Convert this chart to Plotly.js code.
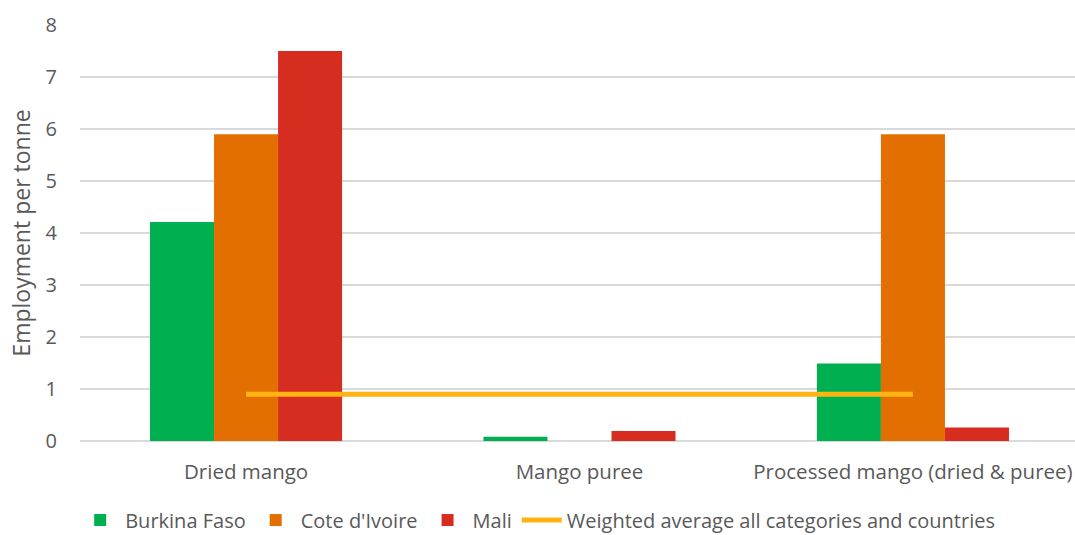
<!DOCTYPE html>
<html><head><meta charset="utf-8">
<script src="https://cdn.plot.ly/plotly-3.0.1.min.js"></script>
<style>html,body{margin:0;padding:0;background:#fff;width:1075px;height:535px;overflow:hidden}#chart{width:1075px;height:550px}</style>
</head><body><div id="chart"></div>
<script>
const categories = ["Dried mango", "Mango puree", "Processed mango (dried & puree)"];
const burkinaFaso = [4.21, 0.08, 1.49];
const coteDIvoire = [5.9, null, 5.9];
const mali = [7.5, 0.19, 0.26];
const weightedAverage = [0.9, 0.9, 0.9];
const yTicks = [0, 1, 2, 3, 4, 5, 6, 7, 8];

const font = "Open Sans, Liberation Sans, sans-serif";
const grey = "#595959";
const traces = [
  {type: "bar", name: "Burkina Faso", x: categories, y: burkinaFaso, marker: {color: "#00B050"}},
  {type: "bar", name: "Cote d'Ivoire", x: categories, y: coteDIvoire, marker: {color: "#E36F00"}},
  {type: "bar", name: "Mali", x: categories, y: mali, marker: {color: "#D62D20"}},
  {type: "scatter", mode: "lines", name: "Weighted average all categories and countries",
   x: categories, y: weightedAverage, line: {color: "#FFB413", width: 5}}
];
const layout = {
  width: 1075, height: 550,
  margin: {l: 80, r: 0, t: 25, b: 109},
  barmode: "group", bargap: 0.424, bargroupgap: 0,
  paper_bgcolor: "#fff", plot_bgcolor: "#fff",
  font: {family: font, color: grey, size: 20},
  xaxis: {type: "category", range: [-0.498, 2.486], showgrid: false, zeroline: false, showline: false,
          ticks: "", ticklabelstandoff: 16, tickfont: {size: 20.5, color: grey}},
  yaxis: {range: [0, 8], tickvals: yTicks, showgrid: true, gridcolor: "#D9D9D9", gridwidth: 1.5,
          zeroline: true, zerolinecolor: "#D9D9D9", zerolinewidth: 1.5, showline: false, ticks: "",
          ticklabelstandoff: 22,
          tickfont: {size: 20, color: grey},
          title: {text: "Employment per tonne", font: {size: 23, color: grey}, standoff: 8}},
  legend: {orientation: "h", x: 0.46, xanchor: "center", y: -0.19, yanchor: "middle",
           font: {size: 20, color: grey}, traceorder: "normal", itemwidth: 40},
  showlegend: true
};
Plotly.newPlot("chart", traces, layout, {displayModeBar: false, staticPlot: true});
</script></body></html>
